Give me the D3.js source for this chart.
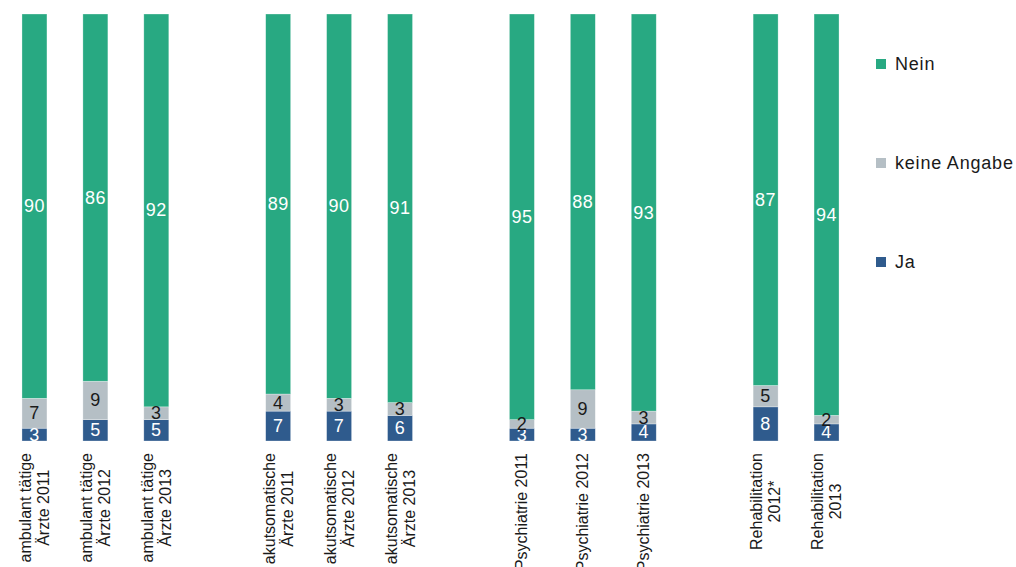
<!DOCTYPE html>
<html>
<head>
<meta charset="utf-8">
<script src="https://cdn.jsdelivr.net/npm/d3@7"></script>
<style>
  html, body { margin: 0; padding: 0; background: #fff; }
  svg { display: block; font-family: "Liberation Sans", Arial, sans-serif; }
</style>
</head>
<body>
<svg id="chart" width="1016" height="567"></svg>
<script>
// ---- data ----
const categories = [
  ["ambulant tätige", "Ärzte 2011"],
  ["ambulant tätige", "Ärzte 2012"],
  ["ambulant tätige", "Ärzte 2013"],
  null,
  ["akutsomatische", "Ärzte 2011"],
  ["akutsomatische", "Ärzte 2012"],
  ["akutsomatische", "Ärzte 2013"],
  null,
  ["Psychiatrie 2011"],
  ["Psychiatrie 2012"],
  ["Psychiatrie 2013"],
  null,
  ["Rehabilitation", "2012*"],
  ["Rehabilitation", "2013"]
];
const jaValues      = [3, 5, 5, null, 7, 7, 6, null, 3, 3, 4, null, 8, 4];
const keineValues   = [7, 9, 3, null, 4, 3, 3, null, 2, 9, 3, null, 5, 2];
const neinValues    = [90, 86, 92, null, 89, 90, 91, null, 95, 88, 93, null, 87, 94];
const seriesNames   = ["Ja", "keine Angabe", "Nein"];
const legendOrder   = ["Nein", "keine Angabe", "Ja"];

// ---- styles ----
const colors = { "Ja": "#2f5b8d", "keine Angabe": "#b5bfc5", "Nein": "#28a982" };
const labelColors = { "Ja": "#ffffff", "keine Angabe": "#1a1a1a", "Nein": "#ffffff" };

const svg = d3.select("#chart");
const plotTop = 14, plotBottom = 441;

const rows = categories.map((c, i) => ({
  key: "slot" + i, lines: c,
  "Ja": jaValues[i], "keine Angabe": keineValues[i], "Nein": neinValues[i]
}));

const x = d3.scaleBand()
  .domain(rows.map(d => d.key))
  .range([4, 857])
  .paddingInner(0.59)
  .paddingOuter(0.295);

const y = d3.scaleLinear().domain([0, 100]).range([plotBottom, plotTop]);

const bars = rows.filter(d => d.lines);
const stack = d3.stack().keys(seriesNames);
const stacked = stack(bars);

svg.append("defs").append("clipPath").attr("id", "plotclip")
  .append("rect").attr("x", 0).attr("y", 0).attr("width", 870).attr("height", plotBottom);

const g = svg.append("g");

const layers = g.selectAll("g.layer").data(stacked).join("g")
  .attr("class", "layer")
  .attr("fill", d => colors[d.key]);

layers.selectAll("rect").data(d => d.map(s => ({ s, key: d.key }))).join("rect")
  .attr("x", d => x(d.s.data.key))
  .attr("y", d => y(d.s[1]))
  .attr("width", x.bandwidth())
  .attr("height", d => y(d.s[0]) - y(d.s[1]))
  .attr("stroke", "#ffffff")
  .attr("stroke-opacity", 0.5)
  .attr("stroke-width", 0.6);

const labG = svg.append("g").attr("clip-path", "url(#plotclip)");
stacked.forEach(layer => {
  labG.selectAll(null).data(layer).join("text")
    .attr("x", d => x(d.data.key) + x.bandwidth() / 2)
    .attr("y", d => (y(d[0]) + y(d[1])) / 2)
    .attr("text-anchor", "middle")
    .attr("dominant-baseline", "central")
    .attr("font-size", 18)
    .attr("letter-spacing", 0.5)
    .attr("fill", labelColors[layer.key])
    .text(d => d.data[layer.key]);
});

// ---- x axis labels (rotated, multi-line, centred block) ----
const axisG = svg.append("g");
bars.forEach(d => {
  const cx = x(d.key) + x.bandwidth() / 2;
  const topY = 453;
  const n = d.lines.length;
  const lh = 18;
  const grp = axisG.append("g");
  const texts = d.lines.map((line, j) =>
    grp.append("text")
      .attr("font-size", 16)
      .attr("fill", "#1a1a1a")
      .attr("text-anchor", "middle")
      .attr("dominant-baseline", "central")
      .text(line));
  const maxW = d3.max(texts, t => t.node().getComputedTextLength());
  texts.forEach((t, j) => {
    const off = (j - (n - 1) / 2) * lh;
    t.attr("transform", `translate(${cx + off},${topY + maxW / 2}) rotate(-90)`);
  });
});

// ---- legend ----
const legend = svg.append("g");
const legendY = d3.scalePoint().domain(legendOrder).range([64, 262]);
legendOrder.forEach(k => {
  const cy = legendY(k);
  legend.append("rect")
    .attr("x", 876).attr("y", cy - 5)
    .attr("width", 10).attr("height", 10)
    .attr("fill", colors[k]);
  legend.append("text")
    .attr("x", 895).attr("y", cy)
    .attr("dominant-baseline", "central")
    .attr("font-size", 18)
    .attr("letter-spacing", 0.8)
    .attr("fill", "#1a1a1a")
    .text(k);
});
</script>
</body>
</html>
